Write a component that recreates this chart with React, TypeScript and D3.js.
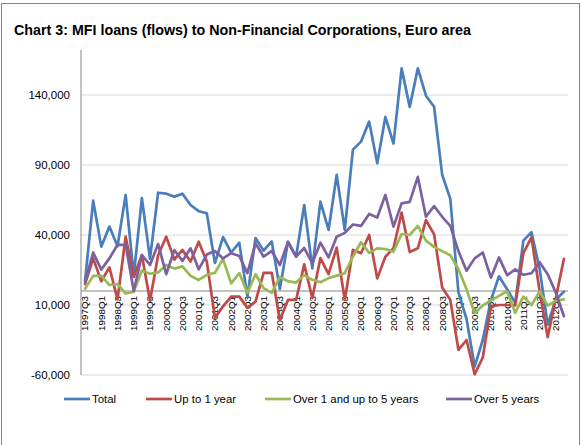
import React from "react";
import * as d3 from "d3";

const categories = [
  "1997Q3", "1997Q4", "1998Q1", "1998Q2", "1998Q3", "1998Q4", "1999Q1", "1999Q2", "1999Q3", "1999Q4",
  "2000Q1", "2000Q2", "2000Q3", "2000Q4", "2001Q1", "2001Q2", "2001Q3", "2001Q4", "2002Q1", "2002Q2",
  "2002Q3", "2002Q4", "2003Q1", "2003Q2", "2003Q3", "2003Q4", "2004Q1", "2004Q2", "2004Q3", "2004Q4",
  "2005Q1", "2005Q2", "2005Q3", "2005Q4", "2006Q1", "2006Q2", "2006Q3", "2006Q4", "2007Q1", "2007Q2",
  "2007Q3", "2007Q4", "2008Q1", "2008Q2", "2008Q3", "2008Q4", "2009Q1", "2009Q2", "2009Q3", "2009Q4",
  "2010Q1", "2010Q2", "2010Q3", "2010Q4", "2011Q1", "2011Q2", "2011Q3", "2011Q4", "2012Q1", "2012Q2",
];

const total = [
  7500, 64500, 31700, 46000, 32000, 68600, 11000, 66300, 23000, 70200,
  69500, 67400, 69500, 61400, 57000, 55500, 20000, 38500, 27500, 34500,
  -4000, 37800, 28800, 35400, 1500, 35200, 24500, 61400, 16200, 63800,
  43600, 82900, 43600, 101000, 106700, 121000, 91300, 124300, 105300, 159000,
  131500, 159000, 139500, 131600, 83000, 65800, -1000, -20000, -54000, -35000,
  -6500, 10500, 1200, -8500, 36000, 42000, 16000, -24000, -6000, -500,
];

const upTo1Year = [
  5000, 23300, 7000, 16900, -6000, 38800, 10000, 25700, -7000, 25500,
  38800, 22500, 29300, 21000, 35200, 21000, -19000, -11000, -4000, -4000,
  -12000, -7600, 13000, 13000, -20700, -6400, -6400, 19000, -5000, 23500,
  12000, 31000, -6400, 29300, 27000, 40000, 9000, 24500, 30500, 56000,
  27800, 30600, 50700, 40500, 2500, -6500, -42000, -35000, -59500, -47500,
  -11000, -10000, -10000, -10300, 27000, 38300, 0, -33000, -5000, 23000,
];

const over1To5Years = [
  1500, 10800, 10800, 4300, 5000, -1800, -500, 14700, 12300, 13300,
  18600, 16000, 17600, 10800, 7900, 11500, 13000, 22800, 5500, 12800,
  -1300, 12000, 2000, -1400, 10000, 7000, 6000, 11400, 8000, 6300,
  9200, 11000, 12700, 24500, 34800, 27200, 30500, 30000, 28000, 40700,
  40000, 46500, 36000, 31500, 28500, 25500, 15500, 1200, -16000, -10300,
  -6700, -3500, -300, -15500, -4000, -10000, -300, -10500, -7000, -6000,
];

const over5Years = [
  6600, 27500, 15300, 23300, 33000, 33000, 0, 25700, 18600, 33500,
  12000, 29200, 21500, 30500, 15500, 26000, 28500, 23300, 27000, 25000,
  12800, 34000, 24500, 28600, 18600, 35000, 24500, 30700, 20000, 34500,
  24000, 38800, 41500, 47500, 46500, 55000, 52500, 68600, 46000, 62600,
  63700, 81500, 53000, 60600, 53000, 46500, 28500, 14500, 23300, 27500,
  9500, 24000, 11300, 15500, 11600, 12700, 20500, 12000, -1300, -18000,
];

const yTickValues = [-60000, -10000, 40000, 90000, 140000];
const yTickLabels = ["-60,000", "10,000", "40,000", "90,000", "140,000"];

const seriesNames = ["Total", "Up to 1 year", "Over 1 and up to 5 years", "Over 5 years"];
const seriesColors = ["#4A7EBB", "#BE4B48", "#98B954", "#7D60A0"];
const seriesValues = [total, upTo1Year, over1To5Years, over5Years];

const W = 582;
const H = 445;
const plotLeft = 81;
const plotRight = 568;
const plotTop = 50;
const font = "'Liberation Sans', Arial, sans-serif";

export default function App() {
  const x = d3.scaleBand<string>().domain(categories).range([plotLeft, plotRight]).padding(0);
  const y = d3.scaleLinear().domain([-60000, 140000]).range([375, 95]);
  const cx = (c: string) => (x(c) as number) + x.bandwidth() / 2;

  const line = d3
    .line<number>()
    .x((_, i) => cx(categories[i]))
    .y((d) => y(d));

  const legendX = [64, 146, 265, 446];

  return (
    <svg
      width={W}
      height={H}
      style={{ position: "fixed", left: 0, top: 0, background: "#fff" }}
      fontFamily={font}
    >
      <rect x={0} y={0} width={W} height={H} fill="#fff" />
      <rect x={1.5} y={3.5} width={578} height={460} fill="none" stroke="#868686" strokeWidth={1} />
      <text x={14} y={35} fontSize={15.5} fontWeight="bold" fill="#000" textLength={457} lengthAdjust="spacingAndGlyphs">
        Chart 3: MFI loans (flows) to Non-Financial Corporations, Euro area
      </text>

      {yTickValues.map((v, i) => (
        <g key={v}>
          <line x1={plotLeft} x2={plotRight} y1={y(v)} y2={y(v)} stroke="#D9D9D9" strokeWidth={1} />
          <text x={70} y={y(v)} dy="0.35em" textAnchor="end" fontSize={11.5} fill="#000">
            {yTickLabels[i]}
          </text>
        </g>
      ))}

      <line x1={plotLeft} x2={plotLeft} y1={plotTop} y2={y(-60000)} stroke="#868686" strokeWidth={1} />
      <line x1={plotLeft} x2={plotRight} y1={y(0)} y2={y(0)} stroke="#868686" strokeWidth={1} />

      {categories.map((c, i) =>
        i % 2 === 0 ? (
          <text
            key={c}
            transform={`translate(${cx(c)},${y(0) + 5}) rotate(-90)`}
            textAnchor="end"
            dy="0.35em"
            fontSize={9.8}
            fill="#000"
          >
            {c}
          </text>
        ) : null
      )}

      {seriesValues.map((vals, s) => (
        <path
          key={seriesNames[s]}
          d={line(vals) as string}
          fill="none"
          stroke={seriesColors[s]}
          strokeWidth={2.7}
          strokeLinejoin="round"
          strokeLinecap="round"
        />
      ))}

      {seriesNames.map((n, s) => (
        <g key={n}>
          <line x1={legendX[s]} x2={legendX[s] + 26} y1={399} y2={399} stroke={seriesColors[s]} strokeWidth={2.7} />
          <text x={legendX[s] + 28} y={399} dy="0.35em" fontSize={11.4} fill="#000">
            {n}
          </text>
        </g>
      ))}
    </svg>
  );
}
